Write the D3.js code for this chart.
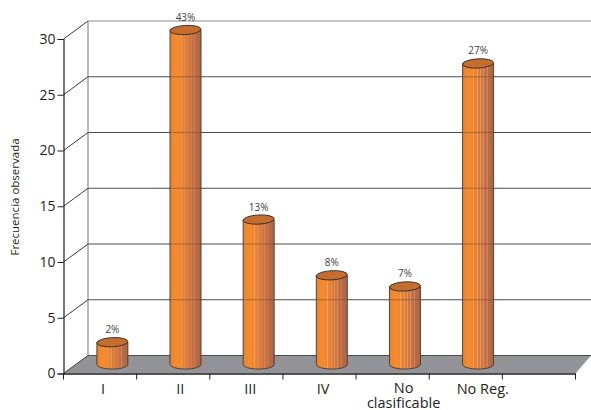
<!DOCTYPE html>
<html><head><meta charset="utf-8">
<script src="https://cdn.jsdelivr.net/npm/d3@7"></script>
<style>html,body{margin:0;background:#fff;overflow:hidden}svg{display:block}text{font-family:"Open Sans",sans-serif;fill:#231f20}</style>
</head><body><div id="chart"></div>
<script>
// Observed frequency per class, with the share printed over each cylinder
const categories = ["I", "II", "III", "IV", "No clasificable", "No Reg."];
const frequencies = [2, 30, 13, 8, 7, 27];
const percentLabels = ["2%", "43%", "13%", "8%", "7%", "27%"];
const yTicks = [0, 5, 10, 15, 20, 25, 30];

const W = 591, H = 410;
const svg = d3.select("#chart").append("svg").attr("width", W).attr("height", H);

// Front plane of the pseudo-3D frame and the shift to its back wall
const frontLeft = 63.5, frontRight = 575.5, frontBase = 373.5, frontTop = 39;
const depthX = 24.5, depthY = -18;
const slots = [...categories, ""];
const x = d3.scaleBand().domain(slots).range([frontLeft, frontRight]);
const y = d3.scaleLinear().domain([0, 30]).range([frontBase, frontTop]);

// Cylinder shading: lit left side, ribbed and browner towards the right
const defs = svg.append("defs");
const grad = defs.append("linearGradient").attr("id", "cyl");
[[0, "#ee8129"], [.2, "#f58b2f"], [.34, "#ee8833"], [.36, "#f5a76a"], [.38, "#ea8534"], [.46, "#e58238"], [.48, "#eea06c"], [.5, "#de7d3a"],
 [.56, "#d97a3c"], [.58, "#e49a6c"], [.6, "#d3773e"], [.66, "#cf7540"], [.68, "#dc966f"], [.7, "#c97241"], [.78, "#c17043"], [.8, "#d0906f"],
 [.82, "#bb6d45"], [1, "#a96549"]].forEach(([o, c]) => grad.append("stop").attr("offset", o).attr("stop-color", c));

const frame = svg.append("g");

// Floor
frame.append("path")
  .attr("d", `M${frontLeft},${frontBase}L${frontLeft + depthX},${frontBase + depthY}H${frontRight + 15.5}L${frontRight},${frontBase}Z`)
  .attr("fill", "#929497");

// Back wall
frame.append("line").attr("x1", frontLeft + depthX).attr("x2", frontLeft + depthX)
  .attr("y1", y(30) + depthY).attr("y2", y(0) + depthY).attr("stroke", "#939598").attr("stroke-width", 1.3);

frame.selectAll("line.grid").data(yTicks).join("line").attr("class", "grid")
  .attr("x1", frontLeft + depthX).attr("x2", W)
  .attr("y1", d => y(d) + depthY).attr("y2", d => y(d) + depthY)
  .attr("stroke", d => d === 30 ? "#8a8c8e" : "#4d4d4f").attr("stroke-width", 1.2);

// Diagonals joining each front tick to the back wall
frame.selectAll("line.side").data(yTicks).join("line").attr("class", "side")
  .attr("x1", frontLeft).attr("x2", frontLeft + depthX)
  .attr("y1", d => y(d)).attr("y2", d => y(d) + depthY)
  .attr("stroke", "#3a3a3c").attr("stroke-width", 1);

// Cylinders
const barW = 31, ry = 4.6, baseLift = 9;
const cx = i => x(categories[i]) + x.bandwidth() / 2 + 12.3;
const baseY = y(0) - baseLift;
const topY = v => baseY - (y(0) - y(v));
const bars = svg.append("g").selectAll("g").data(frequencies).join("g");

bars.append("path")
  .attr("d", (v, i) => {
    const l = cx(i) - barW / 2, r = cx(i) + barW / 2;
    return `M${l},${topY(v)}V${baseY}A${barW / 2},${ry} 0 0 0 ${r},${baseY}V${topY(v)}Z`;
  })
  .attr("fill", "url(#cyl)").attr("stroke", "#3f3a36").attr("stroke-width", .9);

// Grid showing faintly through the cylinders
bars.each(function (v, i) {
  d3.select(this).selectAll("line").data(yTicks.filter(t => t > 0 && y(t) + depthY > topY(v))).join("line")
    .attr("x1", cx(i) - barW / 2).attr("x2", cx(i) + barW / 2)
    .attr("y1", t => y(t) + depthY).attr("y2", t => y(t) + depthY)
    .attr("stroke", "#6d4a30").attr("stroke-opacity", .45).attr("stroke-width", 1.2);
});

bars.append("ellipse")
  .attr("cx", (v, i) => cx(i)).attr("cy", v => topY(v))
  .attr("rx", barW / 2).attr("ry", ry)
  .attr("transform", (v, i) => `rotate(-3 ${cx(i)} ${topY(v)})`)
  .attr("fill", "#c46d2e").attr("stroke", "#2f2a26").attr("stroke-width", .9);

// Percentage labels
bars.append("text")
  .attr("x", (v, i) => cx(i)).attr("y", v => topY(v) - 9)
  .attr("text-anchor", "middle").attr("font-size", 10).style("fill", "#414042")
  .text((v, i) => percentLabels[i]);

// Y axis
const yAxis = svg.append("g").attr("transform", `translate(${frontLeft},0)`)
  .call(d3.axisLeft(y).tickValues(yTicks).tickSize(6).tickPadding(2));
yAxis.select(".domain").attr("stroke", "#231f20").attr("stroke-width", 1.2);
yAxis.selectAll("line").attr("stroke", "#231f20");
yAxis.selectAll("text").attr("font-size", 14).style("font-family", '"Open Sans",sans-serif');

// X axis: ticks mark the slot edges
const edges = slots.map(s => x(s)).concat(frontRight);
const xAxis = svg.append("g");
xAxis.append("line").attr("x1", frontLeft).attr("x2", frontRight).attr("y1", frontBase + .5).attr("y2", frontBase + .5)
  .attr("stroke", "#231f20").attr("stroke-width", 1.3);
xAxis.selectAll("line.t").data(edges).join("line").attr("class", "t")
  .attr("x1", d => d).attr("x2", d => d).attr("y1", frontBase).attr("y2", frontBase + 6)
  .attr("stroke", "#231f20");

// Category labels sit slightly right of the slot centre, the wrapped one on two lines
const labelShift = [3, 7, 4, 3.5, 11, 17];
xAxis.selectAll("text.c").data(categories).join("text").attr("class", "c")
  .attr("text-anchor", "middle").attr("font-size", 14.5)
  .attr("x", (d, i) => x(d) + x.bandwidth() / 2 + labelShift[i]).attr("y", 394)
  .each(function (d) {
    const t = d3.select(this);
    if (d === "No clasificable") {
      const px = t.attr("x");
      t.attr("y", 393);
      t.append("tspan").attr("x", px).text("No");
      t.append("tspan").attr("x", px).attr("dy", 14.5).text("clasificable");
    } else t.text(d);
  });

// Axis title
svg.append("text").attr("transform", "translate(19,197) rotate(-90)")
  .attr("text-anchor", "middle").attr("font-size", 11.5).text("Frecuencia observada");
</script></body></html>
